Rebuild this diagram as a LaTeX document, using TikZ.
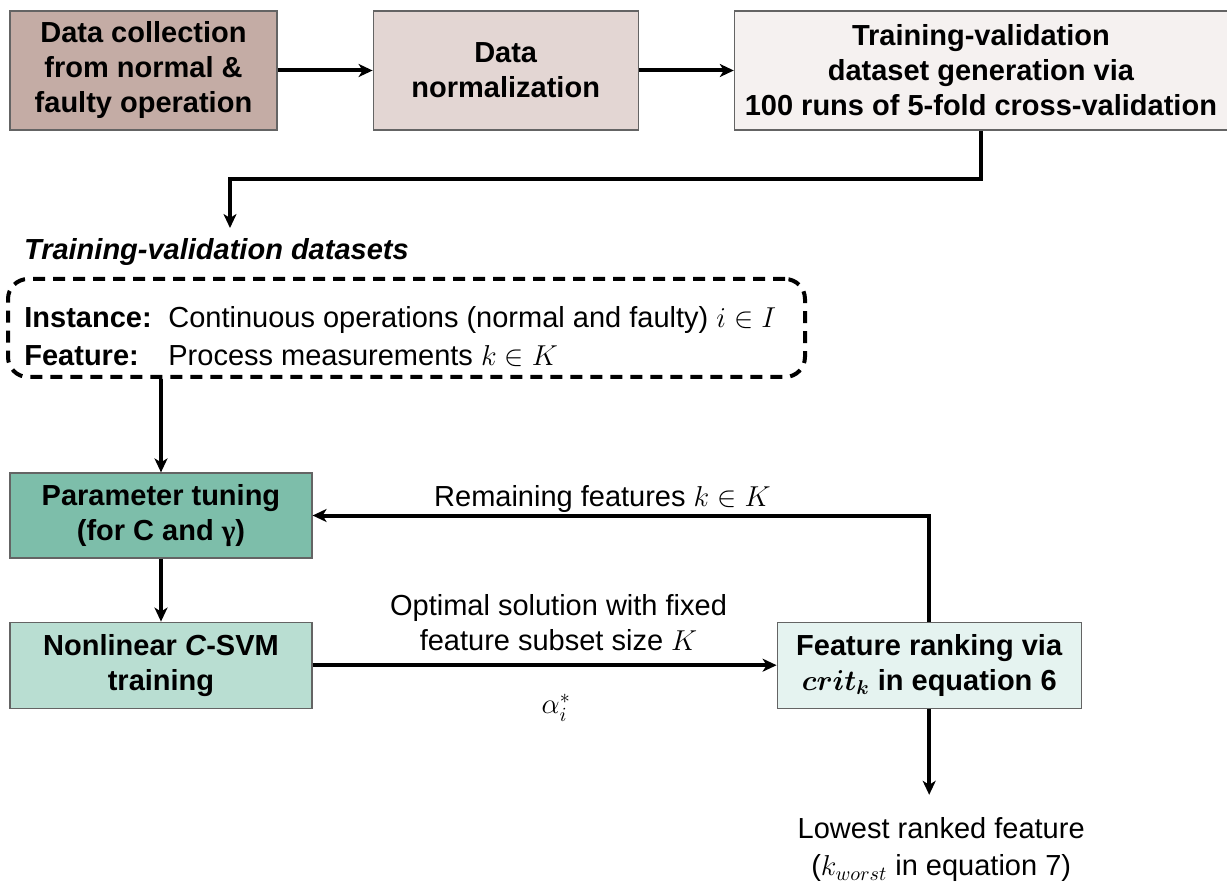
\documentclass[tikz,border=0pt]{standalone}
\usepackage{amsmath,amssymb}
\usepackage{fontspec}
\setmainfont{Liberation Sans}
\newfontfamily\greekfont{Liberation Serif}
\usepackage{xcolor}
\definecolor{collectfill}{RGB}{196,172,165}
\definecolor{normfill}{RGB}{227,214,211}
\definecolor{genfill}{RGB}{245,241,240}
\definecolor{tunefill}{RGB}{125,190,170}
\definecolor{svmfill}{RGB}{185,222,210}
\definecolor{rankfill}{RGB}{229,243,240}
\definecolor{edge}{RGB}{100,100,100}
\usetikzlibrary{arrows.meta,positioning,calc}

\begin{document}
\begin{tikzpicture}[
  x=0.5pt, y=-0.5pt,
  every node/.style={font=\fontsize{14.5}{17.5}\selectfont},
  box/.style={draw=edge, line width=0.6pt, font=\fontsize{14.5}{17.5}\selectfont\bfseries, align=center, inner sep=0pt},
  flow/.style={-{Stealth[length=7pt,width=6.5pt,inset=2pt]}, line width=2pt, color=black}
]
\useasboundingbox (0,0) rectangle (1227,882);

\node[box, fill=collectfill, minimum width=133.5pt, minimum height=59.5pt] (collect) at (143.5,70.5) {Data collection\\from normal \&\\faulty operation};

\node[box, fill=normfill, minimum width=132.5pt, minimum height=59.5pt, right=47.5pt of collect] (norm) {Data\\normalization};

\node[box, fill=genfill, minimum width=246.5pt, minimum height=59.5pt, right=47.5pt of norm] (gen) {Training-validation\\dataset generation via\\100 runs of 5-fold cross-validation};

\coordinate (tvin) at (230,228);

\node[anchor=west, font=\fontsize{14.5}{17.5}\selectfont\bfseries\itshape] (tvtitle) at (17,252) {Training-validation datasets};

% dashed frame round the dataset description
\node[draw, dash pattern=on 6pt off 4pt, line width=2pt, rounded corners=10pt, minimum width=398.5pt, minimum height=49pt] (tvd) at (406.5,328) {};
\node[anchor=base west, inner sep=0pt] (inst) at (24,328) {\makebox[72pt][l]{\textbf{Instance:}}Continuous operations (normal and faulty) $i\in I$};
\node[anchor=base west, inner sep=0pt] (feat) at (24,365) {\makebox[72pt][l]{\textbf{Feature:}}Process measurements $k\in K$};

\node[box, fill=tunefill, minimum width=151pt, minimum height=42.5pt] (tune) at (161,515.5) {Parameter tuning\\(for C and {\greekfont γ})};

\node[box, fill=svmfill, minimum width=151pt, minimum height=43pt, below=31.5pt of tune] (svm) {Nonlinear \textit{C}-SVM\\training};

\node[box, fill=rankfill, minimum width=152pt, minimum height=43pt, right=232pt of svm] (rank) {Feature ranking via\\$\boldsymbol{crit_k}$ in equation 6};

\coordinate[below=43pt of rank] (worst);
\node[below=8pt of worst, xshift=6pt, align=center, font=\fontsize{14.5}{18.5}\selectfont] (lowest) {Lowest ranked feature\\($k_{worst}$ in equation 7)};

\draw[flow] (collect) -- (norm);
\draw[flow] (norm) -- (gen);
\draw[flow] (gen.south) -- ++(0,48) -| (tvin);
\draw[flow] (tvd.south -| tune.north) -- (tune.north);
\draw[flow] (tune) -- (svm);
\draw[flow] (svm) -- node[above=3pt, pos=0.53, align=center] (optlab) {Optimal solution with fixed\\feature subset size $K$} node[below=10pt, pos=0.525] (alphalab) {$\alpha_i^*$} (rank);
\draw[flow] (rank.north) |- node[above=-3pt, pos=0.765] (remlab) {Remaining features $k\in K$} (tune.east);
\draw[flow] (rank.south) -- (worst);
\end{tikzpicture}
\end{document}
